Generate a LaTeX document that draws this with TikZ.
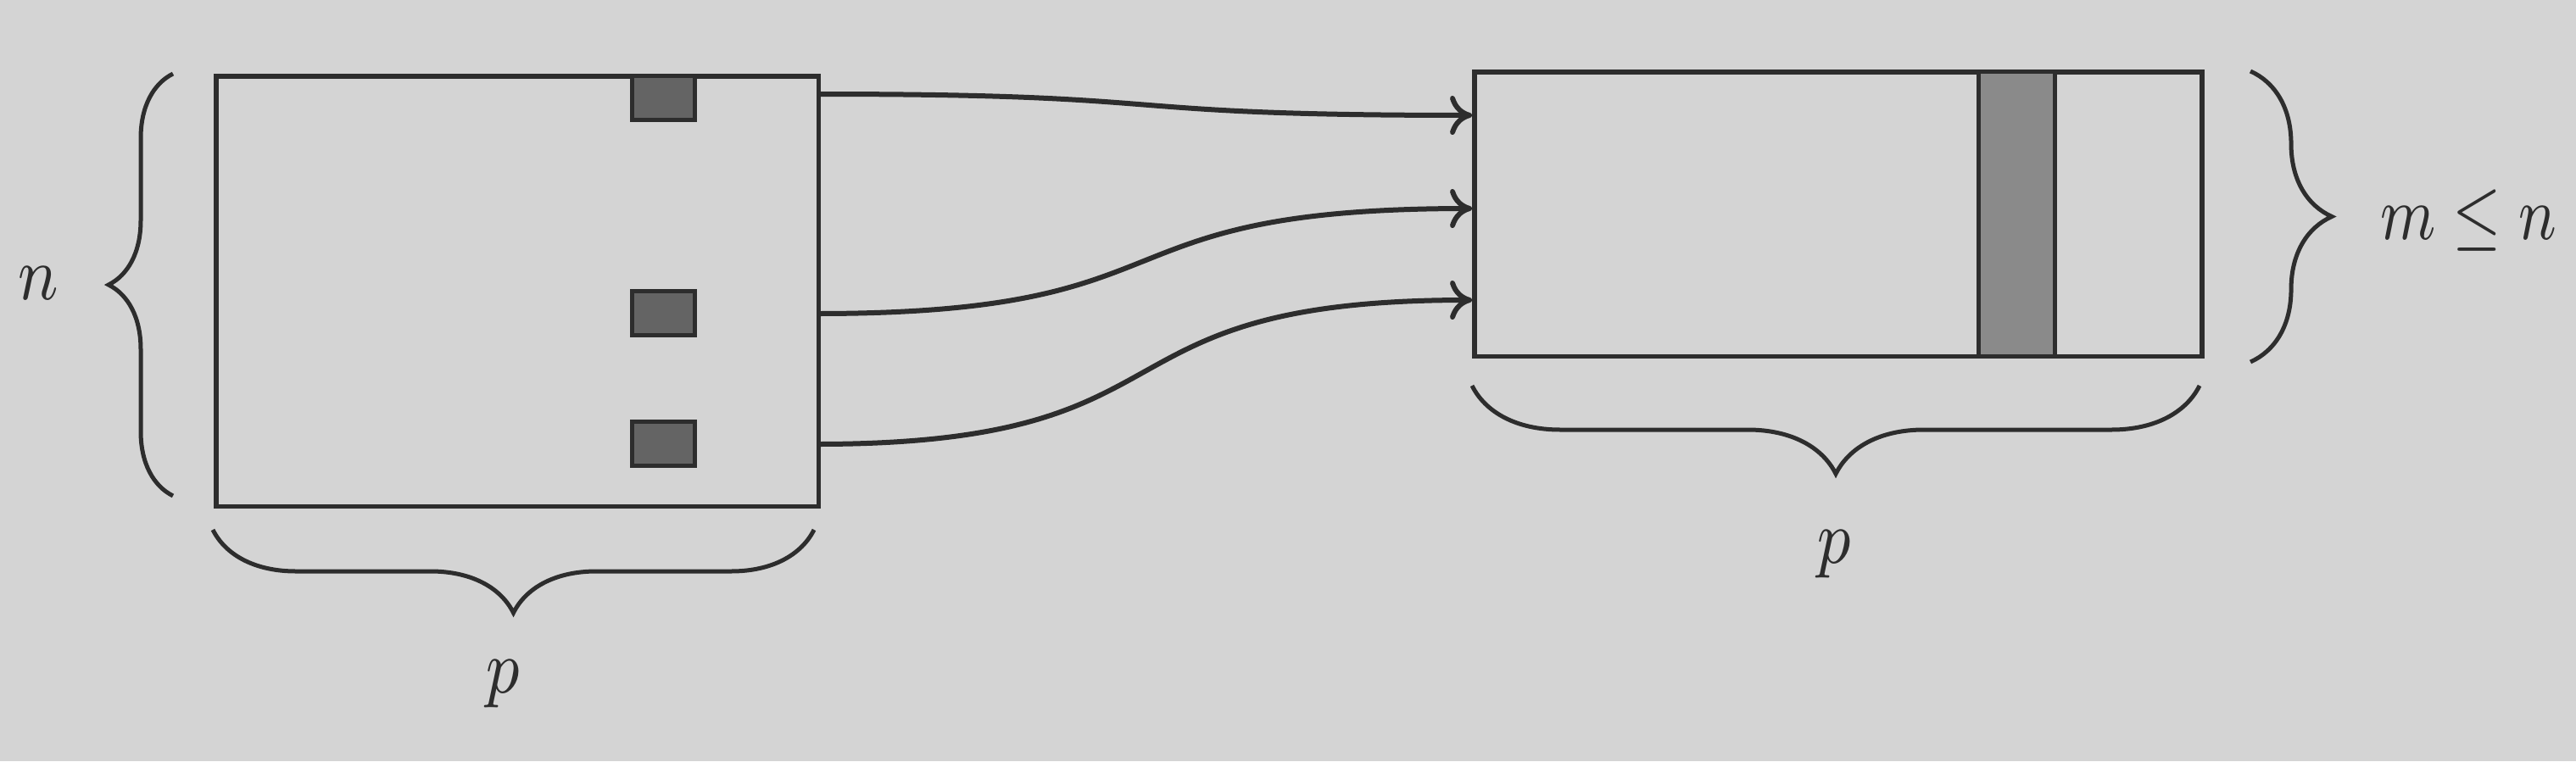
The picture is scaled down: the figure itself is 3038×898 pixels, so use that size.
\documentclass[tikz,border=0pt]{standalone}
\usetikzlibrary{decorations.pathreplacing,arrows.meta}
\definecolor{paper}{RGB}{212,212,212}
\definecolor{ink}{RGB}{45,45,45}
\definecolor{darkcell}{RGB}{100,100,100}
\definecolor{stripcol}{RGB}{138,138,138}
\tikzset{
  x=0.1pt, y=-0.1pt,
  box/.style={draw=ink, line width=0.55pt, inner sep=0pt, anchor=north west},
  cell/.style={draw=ink, fill=darkcell, line width=0.5pt, inner sep=0pt, anchor=north west, minimum width=7.4pt, minimum height=5.2pt},
  strip/.style={draw=ink, fill=stripcol, line width=0.5pt, inner sep=0pt, anchor=north west, minimum width=9pt, minimum height=33.6pt},
  conn/.style={draw=ink, line width=0.6pt, -{To[length=2.6pt,width=4.6pt]}, out=0, in=180, looseness=1.5},
  brc/.style={draw=ink, line width=0.5pt, decorate},
  lbl/.style={text=ink, inner sep=0pt, font=\fontsize{9.5pt}{11pt}\selectfont}
}
\begin{document}
\begin{tikzpicture}
\useasboundingbox[fill=paper] (0,0) rectangle (3038,898);
% matrices
\node[box, minimum width=71.1pt, minimum height=50.8pt] (L) at (252,87) {};
\node[box, minimum width=85.8pt, minimum height=33.6pt] (R) at (1736,82) {};
% dark cells in left matrix
\node[cell] (c1) at (743,87) {};
\node[cell] (c2) at (743,341) {};
\node[cell] (c3) at (743,495) {};
% shaded column in right matrix
\node[strip] (col) at (2331,82) {};
% connector ends
\coordinate (s1) at (963,111);
\coordinate (s2) at (963,370);
\coordinate (s3) at (963,524);
\coordinate (e1) at (1736,136);
\coordinate (e2) at (1736,246);
\coordinate (e3) at (1736,354);
\draw[conn] (s1) to (e1);
\draw[conn] (s2) to (e2);
\draw[conn] (s3) to (e3);
% braces
\coordinate (bn1) at (204,585);
\coordinate (bn2) at (204,87);
\draw[brc, decoration={brace, amplitude=7.6pt}] (bn1) -- (bn2);
\coordinate (bp1) at (960,625);
\coordinate (bp2) at (251,625);
\draw[brc, decoration={brace, amplitude=9.8pt}] (bp1) -- (bp2);
\coordinate (bq1) at (2594,455);
\coordinate (bq2) at (1736,455);
\draw[brc, decoration={brace, amplitude=10.4pt}] (bq1) -- (bq2);
\coordinate (bm1) at (2654,84);
\coordinate (bm2) at (2654,427);
\draw[brc, decoration={brace, amplitude=9.6pt}] (bm1) -- (bm2);
% labels
\node[lbl, anchor=base] (ln) at (45,353) {\scalebox{0.85}[1]{$n$}};
\node[lbl, anchor=base] (lp1) at (593,817) {\scalebox{0.85}[1]{$p$}};
\node[lbl, anchor=base] (lp2) at (2163,664) {\scalebox{0.85}[1]{$p$}};
\node[lbl, anchor=base west] (lm) at (2805,282) {\scalebox{0.8}[1]{$m\leq n$}};
\end{tikzpicture}
\end{document}
